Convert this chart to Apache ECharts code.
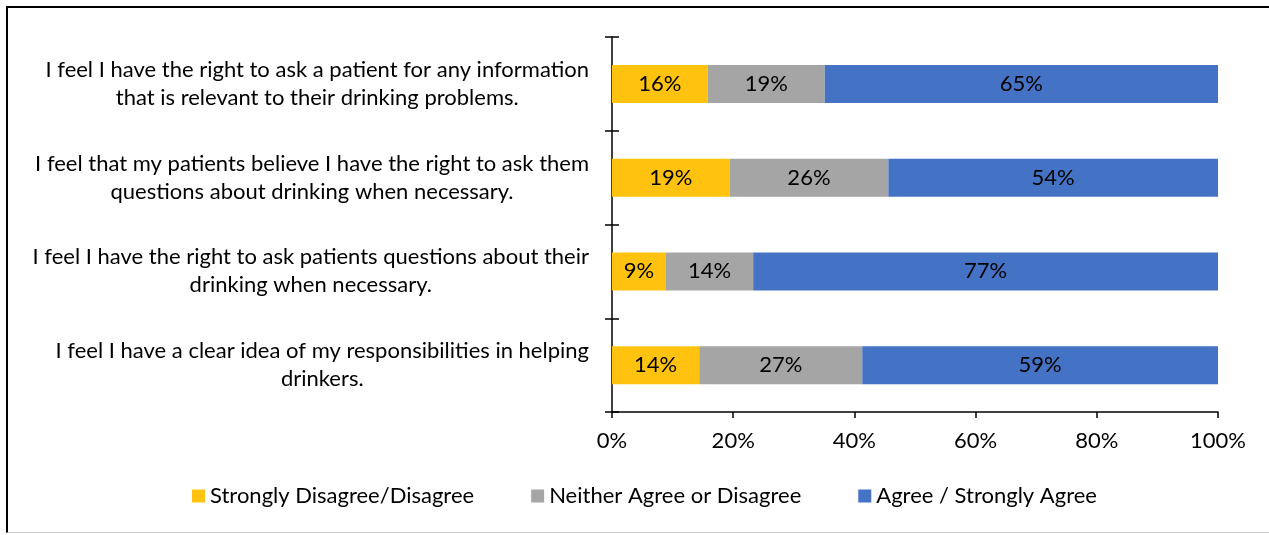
<!DOCTYPE html>
<html>
<head>
<meta charset="utf-8">
<script src="https://cdn.jsdelivr.net/npm/echarts@6/dist/echarts.min.js"></script>
<style>
  html, body { margin: 0; padding: 0; background: #fff; }
  #chart { position: absolute; left: 0; top: 0; width: 1269px; height: 535px; }
  #frame {
    position: absolute; left: 6px; top: 6px; width: 1270px; height: 527px;
    border-top: 2px solid #000; border-left: 2px solid #000; border-bottom: 1px solid #c8c8c8;
    pointer-events: none; box-sizing: border-box;
  }
</style>
</head>
<body>
<div id="chart"></div>
<div id="frame"></div>
<script>
// Statements, each split into the lines it is printed on (top to bottom)
const statementLines = [
  ['I feel I have the right to ask a patient for any information', 'that is relevant to their drinking problems.'],
  ['I feel that my patients believe I have the right to ask them', 'questions about drinking when necessary.'],
  ['I feel I have the right to ask patients questions about their', 'drinking when necessary.'],
  ['I feel I have a clear idea of my responsibilities in helping', 'drinkers.']
];

const seriesNames = ['Strongly Disagree/Disagree', 'Neither Agree or Disagree', 'Agree / Strongly Agree'];

// Share of respondents (%) per statement, same order as statementLines
const disagree = [15.8, 19.4, 8.9, 14.4];
const neither  = [19.3, 26.2, 14.4, 26.9];
const agree    = [64.9, 54.4, 76.7, 58.7];

const xTicks = [0, 20, 40, 60, 80, 100];

const colors = ['#FFC20E', '#A5A5A5', '#4472C4'];
const FONT = 'Lato';
const FS = 22;

// Category axis runs bottom-to-top, so reverse to list the first statement on top
const categories = statementLines.map(l => l.join('\n')).reverse();
const rev = a => a.slice().reverse();

const chart = echarts.init(document.getElementById('chart'), null, { renderer: 'canvas' });

const barLabel = {
  show: true,
  position: 'inside',
  color: '#000',
  fontFamily: FONT,
  fontSize: FS,
  formatter: p => Math.round(p.value) + '%'
};

const option = {
  animation: false,
  textStyle: { fontFamily: FONT },
  grid: { left: 612, right: 51, top: 37, bottom: 123, containLabel: false },
  legend: {
    bottom: 23,
    left: 187,
    itemWidth: 13,
    itemHeight: 13,
    itemGap: 57,
    icon: 'rect',
    textStyle: { fontFamily: FONT, fontSize: FS, color: '#000' },
    data: seriesNames
  },
  xAxis: {
    type: 'value',
    min: xTicks[0],
    max: xTicks[xTicks.length - 1],
    interval: 20,
    axisLine: { show: true, lineStyle: { color: '#000', width: 1.5 } },
    axisTick: { show: true, length: 6, lineStyle: { color: '#000', width: 1.5 } },
    splitLine: { show: false },
    axisLabel: { formatter: '{value}%', color: '#000', fontSize: FS, fontFamily: FONT, margin: 18 }
  },
  yAxis: [
    {
      type: 'category',
      data: categories,
      axisLine: { show: true, lineStyle: { color: '#000', width: 1.5 } },
      axisTick: { show: true, length: 7, lineStyle: { color: '#000', width: 1.5 } },
      axisLabel: {
        color: '#000',
        fontFamily: FONT,
        fontSize: FS,
        margin: 23,
        lineHeight: 28,
        formatter: v => v.split('\n').map(s => '{c|' + s + '}').join('\n'),
        rich: { c: { align: 'center', fontFamily: FONT, fontSize: FS, color: '#000', lineHeight: 28 } }
      }
    },
    {
      // inner half of the crossing ticks
      type: 'category',
      data: categories,
      position: 'left',
      axisLine: { show: false },
      axisTick: { show: true, inside: true, length: 7, lineStyle: { color: '#000', width: 1.5 } },
      axisLabel: { show: false }
    }
  ],
  series: [
    { name: seriesNames[0], type: 'bar', stack: 'total', barWidth: 38, itemStyle: { color: colors[0] }, label: barLabel, data: rev(disagree) },
    { name: seriesNames[1], type: 'bar', stack: 'total', barWidth: 38, itemStyle: { color: colors[1] }, label: barLabel, data: rev(neither) },
    { name: seriesNames[2], type: 'bar', stack: 'total', barWidth: 38, itemStyle: { color: colors[2] }, label: barLabel, data: rev(agree) }
  ]
};

chart.setOption(option);
</script>
</body>
</html>
